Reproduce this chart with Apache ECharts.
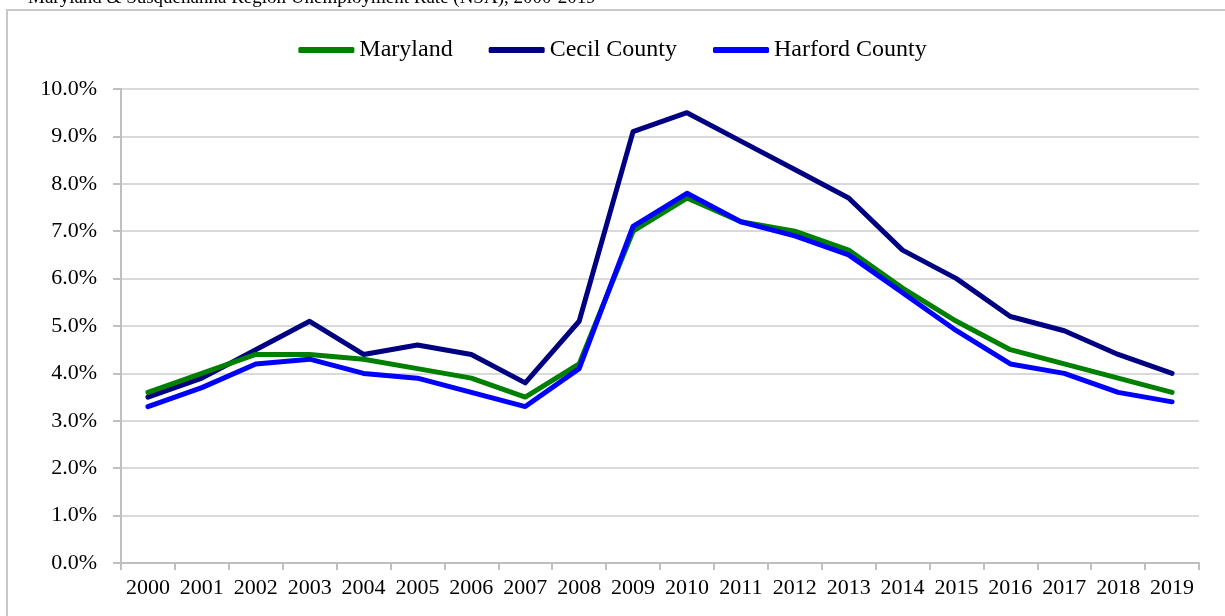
<!DOCTYPE html>
<html>
<head>
<meta charset="utf-8">
<script src="https://cdn.jsdelivr.net/npm/echarts@6/dist/echarts.min.js"></script>
<style>html,body{margin:0;padding:0;background:#fff;}#c{width:1225px;height:616px;}</style>
</head>
<body>
<div id="c"></div>
<script>
const titleText = "Maryland & Susquehanna Region Unemployment Rate (NSA), 2000-2019";
const years = ["2000","2001","2002","2003","2004","2005","2006","2007","2008","2009","2010","2011","2012","2013","2014","2015","2016","2017","2018","2019"];
const seriesNames = ["Maryland", "Cecil County", "Harford County"];
const maryland = [3.6,4.0,4.4,4.4,4.3,4.1,3.9,3.5,4.2,7.0,7.7,7.2,7.0,6.6,5.8,5.1,4.5,4.2,3.9,3.6];
const cecil = [3.5,3.9,4.5,5.1,4.4,4.6,4.4,3.8,5.1,9.1,9.5,8.9,8.3,7.7,6.6,6.0,5.2,4.9,4.4,4.0];
const harford = [3.3,3.7,4.2,4.3,4.0,3.9,3.6,3.3,4.1,7.1,7.8,7.2,6.9,6.5,5.7,4.9,4.2,4.0,3.6,3.4];
const colors = ["#008000", "#000080", "#0000ff"];

const chart = echarts.init(document.getElementById('c'), null, {renderer: 'canvas'});
const font = '"Liberation Serif", "DejaVu Serif", serif';
function mk(name, data, color, z) {
  return {
    name: name, type: 'line', data: data, symbol: 'none', z: z,
    lineStyle: {color: color, width: 5, cap: 'round', join: 'round'},
    itemStyle: {color: color}
  };
}
chart.setOption({
  animation: false,
  textStyle: {fontFamily: font},
  graphic: [
    {type: 'rect', shape: {x: 7, y: 10, width: 1240, height: 640}, style: {fill: 'none', stroke: '#c8c8c8', lineWidth: 2}, z: 0},
    {type: 'text', x: 28, y: 8, style: {text: titleText, font: '19px "Liberation Serif", serif', fill: '#000', verticalAlign: 'bottom'}}
  ],
  legend: {
    top: 33, left: 'center',
    icon: 'roundRect',
    itemWidth: 56, itemHeight: 6, itemGap: 36,
    textStyle: {fontSize: 24, color: '#000', fontFamily: font},
    data: seriesNames
  },
  grid: {left: 121, right: 26, top: 89, bottom: 53, containLabel: false},
  xAxis: {
    type: 'category', data: years, boundaryGap: true,
    axisLine: {lineStyle: {color: '#bfbfbf', width: 2}},
    axisTick: {show: true, length: 7, alignWithLabel: false, lineStyle: {color: '#bfbfbf', width: 2}},
    axisLabel: {fontSize: 22, color: '#000', margin: 14, fontFamily: font, interval: 0}
  },
  yAxis: {
    type: 'value', min: 0, max: 10, interval: 1,
    axisLine: {show: true, lineStyle: {color: '#bfbfbf', width: 2}},
    axisTick: {show: true, length: 8, lineStyle: {color: '#bfbfbf', width: 2}},
    splitLine: {lineStyle: {color: '#d9d9d9', width: 2}},
    axisLabel: {fontSize: 22, color: '#000', margin: 24, fontFamily: font,
      formatter: v => v.toFixed(1) + '%'}
  },
  series: [
    mk(seriesNames[0], maryland, colors[0], 3),
    mk(seriesNames[1], cecil, colors[1], 2),
    mk(seriesNames[2], harford, colors[2], 4)
  ]
});
</script>
</body>
</html>
